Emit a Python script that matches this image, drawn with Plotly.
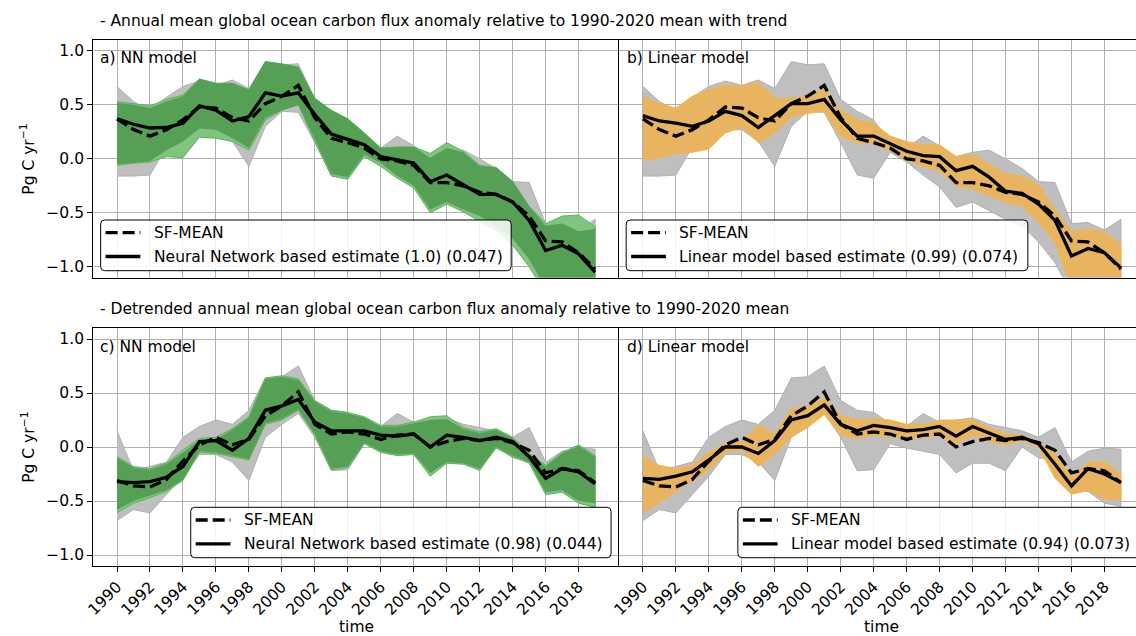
import plotly.graph_objects as go

years = list(range(1990, 2020))
tick_years = list(range(1990, 2019, 2))

# ---------------- with trend (panels a, b) ----------------
sf_trend = [0.37, 0.27, 0.21, 0.27, 0.36, 0.48, 0.47, 0.38, 0.35, 0.51, 0.58, 0.68, 0.38, 0.19, 0.15,
            0.10, 0.00, -0.02, -0.06, -0.22, -0.22, -0.25, -0.31, -0.33, -0.40, -0.53, -0.76, -0.77, -0.87, -1.02]
sf_trend_hi = [0.67, 0.53, 0.45, 0.57, 0.67, 0.72, 0.68, 0.73, 0.65, 0.90, 0.87, 0.88, 0.55, 0.44, 0.36,
               0.14, 0.10, 0.21, 0.12, 0.02, 0.06, 0.08, 0.00, -0.09, -0.21, -0.22, -0.60, -0.59, -0.66, -0.56]
sf_trend_lo = [-0.16, -0.16, -0.15, 0.11, 0.18, 0.27, 0.27, 0.16, -0.07, 0.30, 0.44, 0.43, 0.15, -0.15, -0.18,
               0.06, -0.03, -0.15, -0.26, -0.45, -0.40, -0.48, -0.56, -0.62, -0.77, -0.96, -1.25, -1.25, -1.25, -1.25]

nn_trend = [0.37, 0.32, 0.285, 0.29, 0.33, 0.49, 0.45, 0.35, 0.39, 0.61, 0.58, 0.61, 0.41, 0.23, 0.18,
            0.13, 0.02, -0.01, -0.04, -0.21, -0.15, -0.24, -0.33, -0.33, -0.40, -0.57, -0.85, -0.80, -0.88, -1.05]
nn_trend_hi_light = [0.53, 0.51, 0.49, 0.55, 0.59, 0.74, 0.70, 0.70, 0.64, 0.90, 0.88, 0.85, 0.56, 0.45, 0.37,
                     0.24, 0.10, 0.11, 0.11, 0.05, 0.15, 0.07, -0.06, -0.08, -0.21, -0.44, -0.60, -0.53, -0.52, -0.63]
nn_trend_lo_light = [-0.06, -0.04, -0.03, 0.02, 0.01, 0.20, 0.19, 0.16, 0.08, 0.36, 0.45, 0.50, 0.16, -0.16, -0.19,
                     0.02, -0.07, -0.18, -0.27, -0.50, -0.42, -0.49, -0.58, -0.66, -0.80, -1.00, -1.25, -1.25, -1.25, -1.25]
nn_trend_hi_dark = [0.52, 0.50, 0.47, 0.53, 0.58, 0.74, 0.70, 0.70, 0.64, 0.90, 0.88, 0.85, 0.56, 0.45, 0.37,
                    0.24, 0.10, 0.11, 0.11, 0.01, 0.10, 0.06, -0.07, -0.08, -0.21, -0.44, -0.62, -0.60, -0.67, -0.65]
nn_trend_lo_dark = [-0.05, -0.04, -0.02, 0.08, 0.16, 0.28, 0.27, 0.19, 0.10, 0.38, 0.45, 0.50, 0.18, -0.14, -0.17,
                    0.04, -0.04, -0.16, -0.25, -0.47, -0.40, -0.47, -0.53, -0.62, -0.74, -0.93, -1.20, -1.20, -1.20, -1.20]

lin_trend = [0.40, 0.35, 0.33, 0.30, 0.35, 0.44, 0.40, 0.29, 0.40, 0.51, 0.51, 0.55, 0.36, 0.21, 0.21,
             0.14, 0.07, 0.03, 0.02, -0.11, -0.07, -0.17, -0.30, -0.32, -0.42, -0.57, -0.90, -0.83, -0.87, -1.01]
lin_trend_hi = [0.58, 0.51, 0.47, 0.58, 0.64, 0.68, 0.67, 0.71, 0.56, 0.56, 0.59, 0.64, 0.45, 0.36, 0.33,
                0.21, 0.16, 0.13, 0.13, 0.02, 0.04, -0.05, -0.14, -0.16, -0.24, -0.47, -0.67, -0.65, -0.68, -0.79]
lin_trend_lo = [-0.01, 0.01, 0.05, 0.06, 0.09, 0.24, 0.29, 0.15, 0.24, 0.39, 0.42, 0.44, 0.21, 0.15, 0.14,
                0.07, -0.01, -0.07, -0.11, -0.25, -0.28, -0.34, -0.40, -0.44, -0.59, -0.77, -1.20, -1.20, -1.20, -1.20]

# ---------------- detrended (panels c, d) ----------------
sf_detr = [-0.31, -0.36, -0.37, -0.30, -0.13, 0.02, 0.09, 0.02, 0.07, 0.29, 0.38, 0.51, 0.21, 0.12, 0.14,
           0.12, 0.07, 0.11, 0.12, 0.00, 0.05, 0.08, 0.06, 0.08, 0.04, -0.03, -0.24, -0.20, -0.22, -0.33]
sf_detr_hi = [0.15, -0.22, -0.18, -0.14, 0.09, 0.19, 0.25, 0.21, 0.34, 0.64, 0.65, 0.75, 0.43, 0.34, 0.32,
              0.22, 0.19, 0.31, 0.23, 0.25, 0.27, 0.21, 0.18, 0.15, 0.09, 0.18, -0.14, -0.04, -0.01, -0.02]
sf_detr_lo = [-0.68, -0.58, -0.61, -0.44, -0.27, -0.07, -0.07, -0.14, -0.31, 0.09, 0.21, 0.31, 0.09, -0.22, -0.21,
              0.03, -0.01, -0.04, -0.07, -0.24, -0.15, -0.15, -0.22, 0.00, -0.10, -0.13, -0.42, -0.41, -0.52, -0.55]

nn_detr = [-0.32, -0.33, -0.32, -0.28, -0.18, 0.05, 0.06, -0.03, 0.08, 0.34, 0.38, 0.44, 0.23, 0.15, 0.15,
           0.15, 0.11, 0.10, 0.12, 0.00, 0.11, 0.09, 0.06, 0.09, 0.05, -0.09, -0.29, -0.20, -0.23, -0.34]
nn_detr_hi_light = [-0.09, -0.18, -0.20, -0.15, -0.03, 0.08, 0.09, 0.17, 0.28, 0.64, 0.66, 0.63, 0.43, 0.34, 0.32,
                    0.28, 0.20, 0.20, 0.23, 0.28, 0.29, 0.18, 0.14, 0.17, 0.09, -0.06, -0.17, -0.05, 0.02, -0.08]
nn_detr_lo_light = [-0.61, -0.52, -0.47, -0.41, -0.31, -0.05, -0.06, -0.09, -0.12, 0.21, 0.25, 0.34, 0.11, -0.21, -0.19,
                    0.03, -0.05, -0.08, -0.07, -0.27, -0.15, -0.16, -0.21, -0.01, -0.09, -0.15, -0.44, -0.42, -0.52, -0.56]
nn_detr_hi_dark = [-0.10, -0.19, -0.21, -0.16, -0.05, 0.06, 0.07, 0.16, 0.27, 0.63, 0.65, 0.62, 0.42, 0.33, 0.31,
                   0.27, 0.19, 0.19, 0.22, 0.25, 0.26, 0.17, 0.13, 0.16, 0.08, -0.07, -0.18, -0.06, 0.01, -0.09]
nn_detr_lo_dark = [-0.58, -0.50, -0.45, -0.40, -0.30, -0.04, -0.05, -0.08, -0.11, 0.22, 0.26, 0.35, 0.12, -0.20, -0.18,
                   0.04, -0.04, -0.07, -0.06, -0.24, -0.14, -0.15, -0.20, 0.00, -0.08, -0.14, -0.42, -0.40, -0.50, -0.52]

lin_detr = [-0.29, -0.30, -0.27, -0.23, -0.12, 0.00, 0.00, -0.06, 0.06, 0.25, 0.29, 0.39, 0.21, 0.15, 0.20,
            0.18, 0.15, 0.16, 0.19, 0.10, 0.19, 0.13, 0.07, 0.09, 0.03, -0.16, -0.36, -0.20, -0.25, -0.33]
lin_detr_hi = [-0.09, -0.17, -0.20, -0.17, -0.05, 0.03, 0.05, 0.20, 0.12, 0.35, 0.38, 0.45, 0.29, 0.25, 0.26,
               0.25, 0.21, 0.21, 0.25, 0.25, 0.25, 0.18, 0.12, 0.11, 0.04, -0.06, -0.29, -0.14, -0.14, -0.25]
lin_detr_lo = [-0.61, -0.51, -0.41, -0.31, -0.21, -0.05, -0.03, -0.18, -0.06, 0.09, 0.18, 0.30, 0.11, 0.08, 0.11,
               0.09, 0.09, 0.09, 0.10, 0.03, 0.11, 0.05, 0.02, 0.06, 0.00, -0.29, -0.44, -0.40, -0.48, -0.49]

titles = ["- Annual mean global ocean carbon flux anomaly relative to 1990-2020 mean with trend",
          "- Detrended annual mean global ocean carbon flux anomaly relative to 1990-2020 mean"]
panel_labels = ["a) NN model", "b) Linear model", "c) NN model", "d) Linear model"]
sf_name = "SF-MEAN"
legend_names = ["Neural Network based estimate (1.0) (0.047)",
                "Linear model based estimate (0.99) (0.074)",
                "Neural Network based estimate (0.98) (0.044)",
                "Linear model based estimate (0.94) (0.073)"]

# ---------------- layout geometry (pixels) ----------------
W, H = 1150, 636
XL = (85.7, 615.3)
XR = (615.3, 1144.8)
YT = (40.0, 277.6)
YB = (328.2, 565.8)
# legend boxes (left, top, right, bottom) in pixels
legend_boxes = [(93.3, 220.0, 506.7, 270.7),
                (622.5, 220.0, 1027.0, 270.7),
                (184.0, 507.3, 607.3, 557.7),
                (735.0, 507.3, 1160.0, 557.7)]

def px(x):
    return x / W

def py(y):
    return 1 - y / H

FONT = "DejaVu Sans, Verdana, sans-serif"
FS = 15.5
GREY = "#bfbfbf"
GREEN_L = "#80c480"
GREEN_D = "#55a055"
ORANGE = "#e9b45f"
DASH = "12px,5px"
LW = 3.3

fig = go.Figure()

panels = [
    dict(ax="", sf=sf_trend, sfhi=sf_trend_hi, sflo=sf_trend_lo, est=nn_trend,
         bands=[(nn_trend_hi_light, nn_trend_lo_light, GREEN_L, "rgba(80,180,80,0.9)"),
                (nn_trend_hi_dark, nn_trend_lo_dark, GREEN_D, "rgba(80,160,80,0.0)")]),
    dict(ax="2", sf=sf_trend, sfhi=sf_trend_hi, sflo=sf_trend_lo, est=lin_trend,
         bands=[(lin_trend_hi, lin_trend_lo, ORANGE, "rgba(250,180,60,0.9)")]),
    dict(ax="3", sf=sf_detr, sfhi=sf_detr_hi, sflo=sf_detr_lo, est=nn_detr,
         bands=[(nn_detr_hi_light, nn_detr_lo_light, GREEN_L, "rgba(80,180,80,0.9)"),
                (nn_detr_hi_dark, nn_detr_lo_dark, GREEN_D, "rgba(80,160,80,0.0)")]),
    dict(ax="4", sf=sf_detr, sfhi=sf_detr_hi, sflo=sf_detr_lo, est=lin_detr,
         bands=[(lin_detr_hi, lin_detr_lo, ORANGE, "rgba(250,180,60,0.9)")]),
]

for i, p in enumerate(panels):
    xa = "x" + p["ax"]
    ya = "y" + p["ax"]
    poly_x = years + years[::-1]
    fig.add_trace(go.Scatter(x=poly_x, y=p["sfhi"] + p["sflo"][::-1], fill="toself",
                             fillcolor=GREY, line=dict(color="#b0b0b0", width=1),
                             mode="lines", showlegend=False, hoverinfo="skip",
                             xaxis=xa, yaxis=ya))
    for hi, lo, col, edge in p["bands"]:
        fig.add_trace(go.Scatter(x=poly_x, y=hi + lo[::-1], fill="toself",
                                 fillcolor=col, line=dict(color=edge, width=1),
                                 mode="lines", showlegend=False, hoverinfo="skip",
                                 xaxis=xa, yaxis=ya))
    fig.add_trace(go.Scatter(x=years, y=p["sf"], mode="lines", name=sf_name,
                             line=dict(color="black", width=LW, dash=DASH),
                             showlegend=False, xaxis=xa, yaxis=ya))
    fig.add_trace(go.Scatter(x=years, y=p["est"], mode="lines", name=legend_names[i],
                             line=dict(color="black", width=LW),
                             showlegend=False, xaxis=xa, yaxis=ya))

doms = [(XL, YT), (XR, YT), (XL, YB), (XR, YB)]
for i, (dx, dy) in enumerate(doms):
    suffix = "" if i == 0 else str(i + 1)
    bottom = i >= 2
    left = i % 2 == 0
    xd = [px(dx[0]), px(dx[1])]
    yd = [py(dy[1]), py(dy[0])]
    fig.update_layout(**{
        "xaxis" + suffix: dict(range=[1988.55, 2020.45], tickvals=tick_years, tickangle=-45,
                               showticklabels=bottom, ticks="outside" if bottom else "",
                               ticklen=5, tickcolor="black",
                               showgrid=True, gridcolor="#b0b0b0", gridwidth=1,
                               showline=True, linecolor="black", linewidth=1, mirror=True,
                               zeroline=False, domain=xd, anchor="y" + suffix,
                               tickfont=dict(family=FONT, size=FS, color="black")),
        "yaxis" + suffix: dict(range=[-1.1, 1.1], tickvals=[-1.0, -0.5, 0.0, 0.5, 1.0], tickformat=".1f",
                               showticklabels=left, ticks="outside" if left else "",
                               ticklen=5, tickcolor="black",
                               showgrid=True, gridcolor="#b0b0b0", gridwidth=1,
                               showline=True, linecolor="black", linewidth=1,
                               mirror=(not left),
                               zeroline=False, domain=yd, anchor="x" + suffix,
                               tickfont=dict(family=FONT, size=FS, color="black")),
    })

annotations = []
annotations.append(dict(text=titles[0], x=px(91), y=py(21), xanchor="left", yanchor="middle"))
annotations.append(dict(text=titles[1], x=px(91), y=py(309), xanchor="left", yanchor="middle"))
for lab, (xx, yy) in zip(panel_labels, [(91, 58), (621, 58), (91, 347), (621, 347)]):
    annotations.append(dict(text=lab, x=px(xx), y=py(yy), xanchor="left", yanchor="middle"))
for yc in [(YT[0] + YT[1]) / 2, (YB[0] + YB[1]) / 2]:
    annotations.append(dict(text="Pg C yr<sup>−1</sup>", x=px(20), y=py(yc), xanchor="center",
                            yanchor="middle", textangle=-90))
for xc in [(XL[0] + XL[1]) / 2, (XR[0] + XR[1]) / 2]:
    annotations.append(dict(text="time", x=px(xc), y=py(627), xanchor="center", yanchor="middle"))

# manual matplotlib-style legends
shapes = []
R = 4.0
for (l, t, r, b), name in zip(legend_boxes, legend_names):
    path = (f"M {px(l + R)} {py(t)} L {px(r - R)} {py(t)} Q {px(r)} {py(t)} {px(r)} {py(t + R)} "
            f"L {px(r)} {py(b - R)} Q {px(r)} {py(b)} {px(r - R)} {py(b)} "
            f"L {px(l + R)} {py(b)} Q {px(l)} {py(b)} {px(l)} {py(b - R)} "
            f"L {px(l)} {py(t + R)} Q {px(l)} {py(t)} {px(l + R)} {py(t)} Z")
    shapes.append(dict(type="path", path=path, xref="paper", yref="paper", layer="above",
                       fillcolor="rgba(255,255,255,0.85)", line=dict(color="black", width=1)))
    row1 = t + 12.7
    row2 = t + 36.5
    shapes.append(dict(type="line", xref="paper", yref="paper", layer="above",
                       x0=px(l + 5), x1=px(l + 40), y0=py(row1), y1=py(row1),
                       line=dict(color="black", width=LW, dash=DASH)))
    shapes.append(dict(type="line", xref="paper", yref="paper", layer="above",
                       x0=px(l + 5), x1=px(l + 40), y0=py(row2), y1=py(row2),
                       line=dict(color="black", width=LW)))
    annotations.append(dict(text=sf_name, x=px(l + 51.5), y=py(row1), xanchor="left", yanchor="middle"))
    annotations.append(dict(text=name, x=px(l + 51.5), y=py(row2), xanchor="left", yanchor="middle"))

for a in annotations:
    a.update(xref="paper", yref="paper", showarrow=False,
             font=dict(family=FONT, size=FS, color="black"))

fig.update_layout(
    width=W, height=H,
    margin=dict(l=0, r=0, t=0, b=0),
    paper_bgcolor="white", plot_bgcolor="white",
    annotations=annotations,
    shapes=shapes,
    showlegend=False,
    font=dict(family=FONT, size=FS, color="black"),
)

fig.write_html("out.html",
               post_script="document.documentElement.style.overflow='hidden';document.body.style.overflow='hidden';document.body.style.margin='0';")
